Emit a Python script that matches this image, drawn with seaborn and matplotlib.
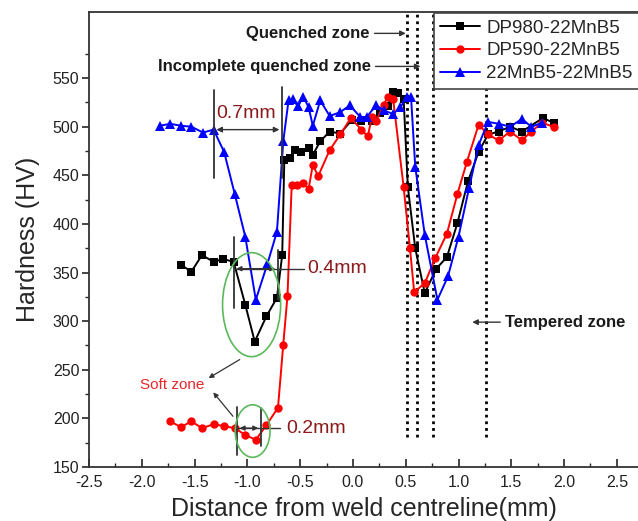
import matplotlib
matplotlib.use("Agg")
import matplotlib.pyplot as plt
import seaborn as sns
import pandas as pd
from matplotlib.patches import Ellipse
from matplotlib.ticker import MultipleLocator

# ---------------- data ----------------
dp980_x = [-1.63, -1.53, -1.43, -1.32, -1.23, -1.13, -1.02, -0.93, -0.82, -0.72, -0.67,
           -0.65, -0.60, -0.55, -0.49, -0.42, -0.38, -0.31, -0.22, -0.12, -0.01, 0.08,
           0.18, 0.26, 0.33, 0.38, 0.43, 0.48, 0.52, 0.59, 0.68, 0.79, 0.89, 0.99, 1.09,
           1.19, 1.28, 1.38, 1.49, 1.60, 1.80, 1.90]
dp980_y = [358, 351, 368, 361, 364, 361, 317, 279, 305, 324, 368,
           466, 468, 476, 474, 478, 471, 485, 495, 493, 507, 506,
           506, 514, 521, 536, 535, 529, 438, 375, 329, 354, 366, 401, 444,
           474, 492, 495, 500, 495, 509, 504]

dp590_x = [-1.73, -1.63, -1.53, -1.43, -1.32, -1.22, -1.12, -1.02, -0.92, -0.82, -0.71,
           -0.66, -0.62, -0.58, -0.53, -0.47, -0.42, -0.38, -0.33, -0.22, -0.12, -0.02,
           0.08, 0.14, 0.18, 0.22, 0.29, 0.33, 0.38, 0.48, 0.54, 0.58, 0.68, 0.78, 0.89,
           0.99, 1.08, 1.19, 1.28, 1.38, 1.49, 1.60, 1.69, 1.79, 1.90]
dp590_y = [197, 191, 197, 190, 194, 192, 190, 183, 178, 193, 211,
           276, 326, 440, 440, 442, 436, 461, 449, 476, 492, 509,
           497, 490, 510, 506, 522, 531, 529, 438, 375, 330, 339, 365, 390,
           431, 464, 502, 492, 486, 495, 486, 495, 504, 500]

mnb5_x = [-1.83, -1.73, -1.63, -1.53, -1.42, -1.32, -1.22, -1.12, -1.02, -0.92, -0.81,
          -0.72, -0.66, -0.61, -0.57, -0.52, -0.47, -0.42, -0.38, -0.31, -0.22, -0.12,
          -0.03, 0.07, 0.13, 0.22, 0.29, 0.38, 0.45, 0.51, 0.55, 0.59, 0.68, 0.80, 0.90,
          1.00, 1.10, 1.19, 1.28, 1.38, 1.49, 1.60, 1.69, 1.79]
mnb5_y = [501, 503, 501, 500, 494, 497, 474, 431, 387, 322, 359,
          392, 485, 527, 528, 521, 531, 520, 501, 527, 511, 515,
          522, 510, 510, 522, 517, 513, 520, 531, 531, 459, 389, 322, 346,
          387, 437, 481, 505, 503, 500, 508, 500, 504]

series_names = ["DP980-22MnB5", "DP590-22MnB5", "22MnB5-22MnB5"]
zone_lines = [0.51, 0.61, 0.76, 1.26]

df = pd.concat([
    pd.DataFrame({"x": dp980_x, "y": dp980_y, "s": series_names[0]}),
    pd.DataFrame({"x": dp590_x, "y": dp590_y, "s": series_names[1]}),
    pd.DataFrame({"x": mnb5_x, "y": mnb5_y, "s": series_names[2]}),
], ignore_index=True)

# ---------------- style ----------------
sns.set_theme(style="ticks")
plt.rcParams["font.family"] = ["Liberation Sans", "DejaVu Sans"]

fig = plt.figure(figsize=(6.38, 5.21), dpi=100)
ax = fig.add_axes([0.1395, 0.1036, 0.8605, 0.8734])

palette = {series_names[0]: "#000000", series_names[1]: "#ff0000", series_names[2]: "#0000ff"}
markers = {series_names[0]: "s", series_names[1]: "o", series_names[2]: "^"}
msizes = {series_names[0]: 5.5, series_names[1]: 6.0, series_names[2]: 6.5}

for name in series_names:
    sub = df[df["s"] == name]
    sns.lineplot(data=sub, x="x", y="y", ax=ax, color=palette[name],
                 marker=markers[name], markersize=msizes[name], markeredgewidth=0,
                 linewidth=1.4, estimator=None, sort=False, label=name, zorder=3)

# zone dotted lines
for xv in zone_lines:
    ax.plot([xv, xv], [181, 618], color="black", linestyle=(0, (1, 1.4)),
            linewidth=2.0, zorder=2)

ax.set_xlim(-2.5, 2.7)
ax.set_ylim(150, 618)
ax.set_xticks([-2.5, -2.0, -1.5, -1.0, -0.5, 0.0, 0.5, 1.0, 1.5, 2.0, 2.5])
ax.set_xticklabels(["-2.5", "-2.0", "-1.5", "-1.0", "-0.5", "0.0", "0.5", "1.0", "1.5", "2.0", "2.5"])
ax.xaxis.set_minor_locator(MultipleLocator(0.25))
ax.set_yticks([150, 200, 250, 300, 350, 400, 450, 500, 550])
ax.set_yticks([175, 225, 275, 325, 375, 425, 475, 525, 575], minor=True)

ax.tick_params(axis="x", which="major", direction="in", length=6, width=1.2,
               labelsize=11.5, labelcolor="#222222", pad=6)
ax.tick_params(axis="x", which="minor", direction="in", length=3, width=1.0)
ax.tick_params(axis="y", which="major", direction="out", length=5, width=1.2,
               labelsize=11.5, labelcolor="#222222", pad=2)
ax.tick_params(axis="y", which="minor", direction="out", length=3, width=1.0)

for sp in ["left", "bottom", "top"]:
    ax.spines[sp].set_color("#333333")
    ax.spines[sp].set_linewidth(1.3)
ax.spines["right"].set_visible(False)

ax.set_xlabel("Distance from weld centreline(mm)", fontsize=18, labelpad=5)
ax.set_ylabel("Hardness (HV)", fontsize=18, labelpad=9)

# ---------------- annotations ----------------
dark_red = "#8b1a1a"
gray = "#333333"

# 0.7 mm
ax.plot([-1.32, -1.32], [447, 538], color=gray, lw=1.3, zorder=4)
ax.plot([-0.67, -0.67], [447, 541], color=gray, lw=1.3, zorder=4)
ax.annotate("", xy=(-1.32, 497), xytext=(-0.67, 497),
            arrowprops=dict(arrowstyle="<|-|>", color=gray, lw=1.0, mutation_scale=8), zorder=4)
ax.text(-1.01, 514, "0.7mm", color=dark_red, fontsize=14, ha="center", va="center", zorder=5)

# 0.4 mm
ax.plot([-1.13, -1.13], [314, 387], color=gray, lw=1.3, zorder=4)
ax.plot([-0.71, -0.71], [322, 373], color=gray, lw=1.3, zorder=4)
ax.plot([-1.13, -0.46], [354, 354], color=gray, lw=1.0, zorder=4)
ax.annotate("", xy=(-1.13, 354), xytext=(-0.71, 354),
            arrowprops=dict(arrowstyle="<|-|>", color=gray, lw=1.0, mutation_scale=7), zorder=4)
ax.text(-0.43, 354, "0.4mm", color=dark_red, fontsize=14, ha="left", va="center", zorder=5)

# 0.2 mm
ax.plot([-1.10, -1.10], [162, 212], color=gray, lw=1.3, zorder=4)
ax.plot([-0.87, -0.87], [172, 211], color=gray, lw=1.3, zorder=4)
ax.plot([-1.10, -0.69], [190, 190], color=gray, lw=1.0, zorder=4)
ax.annotate("", xy=(-1.10, 190), xytext=(-0.87, 190),
            arrowprops=dict(arrowstyle="<|-|>", color=gray, lw=1.0, mutation_scale=7), zorder=4)
ax.text(-0.63, 190, "0.2mm", color=dark_red, fontsize=14, ha="left", va="center", zorder=5)

# soft-zone ellipses
ax.add_patch(Ellipse((-0.96, 317), 0.55, 107, fill=False, edgecolor="#5cb85c", lw=1.2, zorder=5))
ax.add_patch(Ellipse((-0.95, 187), 0.33, 54, fill=False, edgecolor="#5cb85c", lw=1.2, zorder=5))
ax.text(-1.71, 234, "Soft zone", color="#e8282a", fontsize=11, ha="center", va="center", zorder=5)
ax.annotate("", xy=(-1.39, 240), xytext=(-1.05, 262),
            arrowprops=dict(arrowstyle="-|>", color=gray, lw=0.9, mutation_scale=7), zorder=5)
ax.annotate("", xy=(-1.34, 229), xytext=(-1.12, 200),
            arrowprops=dict(arrowstyle="-|>", color=gray, lw=0.9, mutation_scale=7), zorder=5)

# zone labels
ax.annotate("Quenched zone", xy=(0.50, 596), xytext=(0.16, 596), ha="right", va="center",
            fontsize=12, fontweight="bold", color="#1a1a1a",
            arrowprops=dict(arrowstyle="-|>", color=gray, lw=1.0, mutation_scale=8,
                            shrinkA=1, shrinkB=0), zorder=5)
ax.annotate("Incomplete quenched zone", xy=(0.64, 562), xytext=(0.17, 562), ha="right", va="center",
            fontsize=12, fontweight="bold", color="#1a1a1a",
            arrowprops=dict(arrowstyle="-|>", color=gray, lw=1.0, mutation_scale=8,
                            shrinkA=1, shrinkB=0), zorder=5)
ax.annotate("Tempered zone", xy=(1.13, 299), xytext=(1.44, 299), ha="left", va="center",
            fontsize=12, fontweight="bold", color="#1a1a1a",
            arrowprops=dict(arrowstyle="-|>", color=gray, lw=1.0, mutation_scale=8,
                            shrinkA=1, shrinkB=0), zorder=5)

# legend
leg = ax.legend(loc="upper left", bbox_to_anchor=(0.628, 0.998), borderaxespad=0,
                fontsize=13.5, frameon=True, fancybox=False, handlelength=2.1,
                handletextpad=0.35, labelspacing=0.3, borderpad=0.35)
leg.get_frame().set_edgecolor("#444444")
leg.get_frame().set_linewidth(1.2)
leg.get_frame().set_alpha(1.0)
leg.set_zorder(10)

fig.savefig("out.png", dpi=100)
